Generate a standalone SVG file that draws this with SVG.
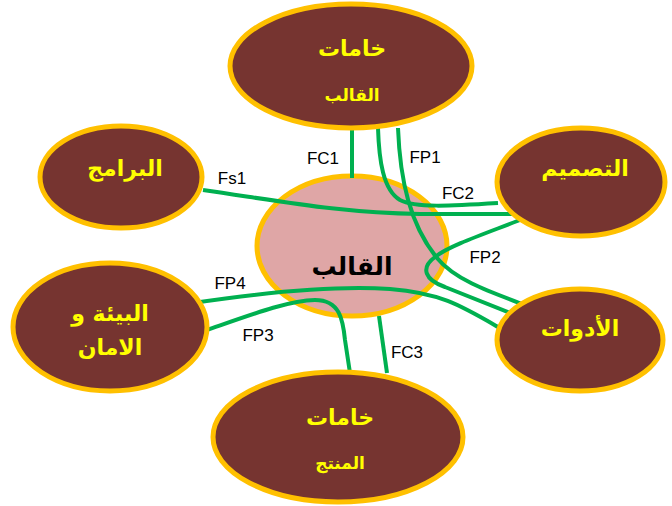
<svg xmlns="http://www.w3.org/2000/svg" width="672" height="506" viewBox="0 0 672 506">
<style>
.node{fill:#763430;stroke:#FFC000;stroke-width:5}
.core{fill:#DFA6A6;stroke:#FFC000;stroke-width:5}
.ar{font-family:"DejaVu Sans",sans-serif;font-weight:bold;fill:#FFFF00;text-anchor:middle}
.big{font-size:22px}
.small{font-size:17px}
.lbl{font-family:"Liberation Sans",Arial,sans-serif;font-size:17px;fill:#000;text-anchor:middle}
.cn{fill:none;stroke:#00B050;stroke-width:4;stroke-linecap:butt}
</style>
<rect width="672" height="506" fill="#fff"/>
<g id="core">
<ellipse class="core" cx="352" cy="246" rx="95" ry="70"/>
<text x="352" y="275" font-family="DejaVu Sans,sans-serif" font-weight="bold" font-size="25" fill="#000" text-anchor="middle">القالب</text>
</g>
<g id="connectors">
<path class="cn" d="M352,128 L352,178"/>
<path class="cn" d="M378,128 C379,160 383,190 400,200 C415,208 450,206 498,203"/>
<path class="cn" d="M203,190 C280,201 340,213 420,214 L512,214"/>
<path class="cn" d="M398,128 C400,180 410,225 437,258 C455,280 490,292 525,305"/>
<path class="cn" d="M525,218 C490,232 450,245 435,257 C420,268 425,280 445,287 C470,297 490,305 510,313"/>
<path class="cn" d="M193,303 C260,293 330,285 390,289 C440,293 460,305 498,327"/>
<path class="cn" d="M207,330 C250,315 290,300 315,300 C340,300 343,320 345,340 L350,373"/>
<path class="cn" d="M379,316 L387,373"/>
<text class="lbl" x="323" y="164">FC1</text>
<text class="lbl" x="425" y="163">FP1</text>
<text class="lbl" x="458" y="199">FC2</text>
<text class="lbl" x="232" y="184">Fs1</text>
<text class="lbl" x="485" y="263">FP2</text>
<text class="lbl" x="230" y="289">FP4</text>
<text class="lbl" x="258" y="341">FP3</text>
<text class="lbl" x="407" y="358">FC3</text>
</g>
<g id="mould-materials">
<ellipse class="node" cx="351" cy="66" rx="121" ry="62"/>
<text class="ar big" x="352" y="56">خامات</text>
<text class="ar small" x="352" y="101">القالب</text>
</g>
<g id="software">
<ellipse class="node" cx="121" cy="177" rx="81" ry="51"/>
<text class="ar big" x="125" y="176">البرامج</text>
</g>
<g id="design">
<ellipse class="node" cx="581" cy="182" rx="84" ry="54"/>
<text class="ar big" x="585" y="176">التصميم</text>
</g>
<g id="environment">
<ellipse class="node" cx="110" cy="327" rx="97" ry="64"/>
<text class="ar big" x="110" y="321">البيئة و</text>
<text class="ar big" x="110" y="355">الامان</text>
</g>
<g id="tools">
<ellipse class="node" cx="580" cy="340" rx="83" ry="51"/>
<text class="ar big" x="580" y="336">الأدوات</text>
</g>
<g id="product-materials">
<ellipse class="node" cx="338" cy="437" rx="125" ry="65"/>
<text class="ar big" x="340" y="425">خامات</text>
<text class="ar small" x="340" y="469">المنتج</text>
</g>
</svg>
